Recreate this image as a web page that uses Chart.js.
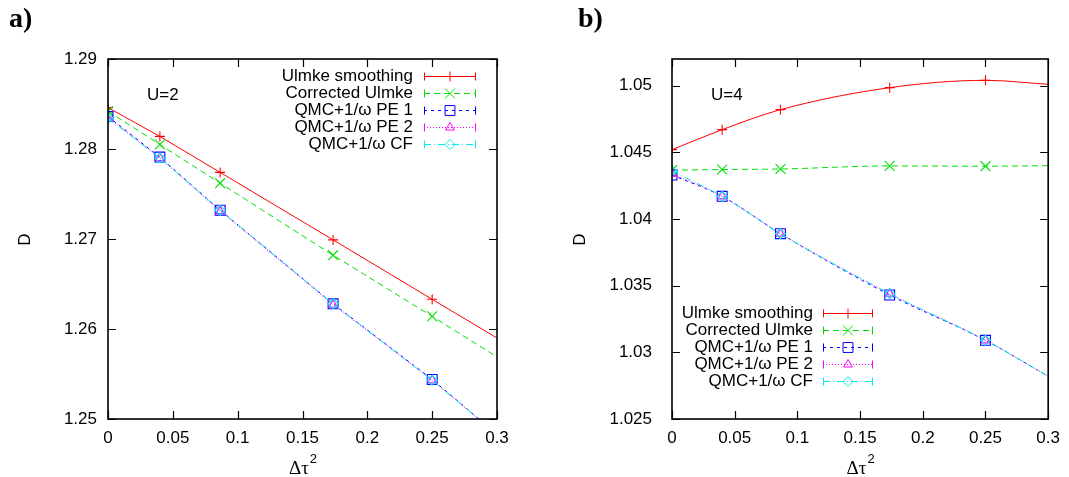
<!DOCTYPE html>
<html>
<head>
<meta charset="utf-8">
<title>D vs Δτ²</title>
<script src="https://cdn.jsdelivr.net/npm/chart.js@4.4.1/dist/chart.umd.min.js"></script>
<style>
  body { margin: 0; background: #fff; }
  .panel { position: absolute; top: 0; height: 477px; }
  #panelA { left: 0; width: 534px; }
  #panelB { left: 534px; width: 535px; }
</style>
</head>
<body>
<div class="panel" id="panelA"><canvas id="chartA"></canvas></div>
<div class="panel" id="panelB"><canvas id="chartB"></canvas></div>
<script>
// Δτ² of the QMC runs, plus the right end of the fitted curves
const tauSq = [0, 0.04, 0.0865, 0.1736, 0.25];
const tauSqEnd = 0.3;

const xTicks = [0, 0.05, 0.1, 0.15, 0.2, 0.25, 0.3];
const yTicksA = [1.25, 1.26, 1.27, 1.28, 1.29];
const yTicksB = [1.025, 1.03, 1.035, 1.04, 1.045, 1.05];

const seriesNames = ['Ulmke smoothing', 'Corrected Ulmke', 'QMC+1/ω PE 1', 'QMC+1/ω PE 2', 'QMC+1/ω CF'];

// U=2
const ulmkeA     = [1.2846, 1.2814, 1.2774, 1.2699, 1.2633];
const correctedA = [1.2842, 1.2805, 1.2762, 1.2682, 1.2614];
const pe1A       = [1.2836, 1.2791, 1.2732, 1.2628, 1.2544];
const pe2A       = [1.2835, 1.2790, 1.2731, 1.2627, 1.2543];
const cfA        = [1.2834, 1.2790, 1.2732, 1.2628, 1.2543];
const curveEndA  = [1.2590, 1.2569, 1.2483, 1.2483, 1.2483]; // curves at Δτ²=0.3

// U=4
const ulmkeB     = [1.0452, 1.0467, 1.0482, 1.04985, 1.0504];
const correctedB = [1.04366, 1.04371, 1.04375, 1.04398, 1.04396];
const pe1B       = [1.0433, 1.0417, 1.0389, 1.0343, 1.0309];
const pe2B       = [1.0434, 1.0417, 1.0389, 1.0344, 1.0309];
const cfB        = [1.0436, 1.0417, 1.0389, 1.0344, 1.0309];
const curveEndB  = [1.0501, 1.0440, 1.0282, 1.0282, 1.0282];

// gnuplot-like line types
const styles = [
  { color: '#ff0000', dash: [],           point: 'cross',    radius: 5 },
  { color: '#00e000', dash: [6, 4],       point: 'crossRot', radius: 7 },
  { color: '#0000ff', dash: [3, 4],       point: 'rect',     radius: 7 },
  { color: '#ff00ff', dash: [1, 2],       point: 'triangle', radius: 5 },
  { color: '#00eeee', dash: [7, 3, 1, 3], point: 'rectRot',  radius: 5 },
];

const SANS = '"Liberation Sans", Arial, sans-serif';
const SERIF = '"Liberation Serif", "Times New Roman", serif';

function buildDatasets(seriesValues, curveEnd, curveMode) {
  const sets = [];
  seriesValues.forEach((vals, i) => {
    const s = styles[i];
    const pts = tauSq.map((x, j) => ({ x: x, y: vals[j] }));
    // fitted curve, drawn under its markers
    sets.push({
      label: seriesNames[i],
      data: pts.concat([{ x: tauSqEnd, y: curveEnd[i] }]),
      showLine: true,
      borderColor: s.color,
      borderWidth: 1,
      borderDash: s.dash,
      pointRadius: 0,
      cubicInterpolationMode: curveMode,
      order: 10 - 2 * i
    });
    sets.push({
      label: seriesNames[i],
      data: pts,
      showLine: false,
      pointStyle: s.point,
      pointRadius: s.radius,
      pointBorderColor: s.color,
      pointBackgroundColor: 'transparent',
      pointBorderWidth: 1.1,
      order: 9 - 2 * i
    });
  });
  return sets;
}

// border box with inward ticks on all four sides
const frame = {
  id: 'frame',
  afterDatasetsDraw(chart) {
    const { ctx, chartArea: a, scales: { x, y } } = chart;
    ctx.save();
    ctx.strokeStyle = '#000';
    ctx.lineWidth = 1.2;
    ctx.beginPath();
    x.ticks.forEach(t => {
      const px = Math.round(x.getPixelForValue(t.value)) + 0.5;
      ctx.moveTo(px, a.bottom); ctx.lineTo(px, a.bottom - 8);
      ctx.moveTo(px, a.top); ctx.lineTo(px, a.top + 8);
    });
    y.ticks.forEach(t => {
      const py = Math.round(y.getPixelForValue(t.value)) + 0.5;
      ctx.moveTo(a.left, py); ctx.lineTo(a.left + 8, py);
      ctx.moveTo(a.right, py); ctx.lineTo(a.right - 8, py);
    });
    ctx.stroke();
    ctx.lineWidth = 1.6;
    ctx.strokeRect(a.left, a.top, a.right - a.left, a.bottom - a.top);
    ctx.restore();
  }
};

// key: right-aligned text, sample line with end caps and marker
const keyBox = {
  id: 'keyBox',
  afterDraw(chart, args, o) {
    const ctx = chart.ctx;
    ctx.save();
    ctx.font = '17px ' + SANS;
    ctx.textAlign = 'right';
    ctx.textBaseline = 'middle';
    seriesNames.forEach((name, i) => {
      const s = styles[i];
      const yy = Math.round(o.top + i * o.step) + 0.5;
      ctx.fillStyle = '#000';
      ctx.fillText(name, o.textRight, yy);
      ctx.strokeStyle = s.color;
      ctx.lineWidth = 1;
      ctx.setLineDash(s.dash);
      ctx.beginPath();
      ctx.moveTo(o.x1, yy); ctx.lineTo(o.x2, yy);
      ctx.stroke();
      ctx.setLineDash([]);
      ctx.beginPath();
      ctx.moveTo(o.x1 + 0.5, yy - 4); ctx.lineTo(o.x1 + 0.5, yy + 4);
      ctx.moveTo(o.x2 - 0.5, yy - 4); ctx.lineTo(o.x2 - 0.5, yy + 4);
      ctx.stroke();
      ctx.fillStyle = 'rgba(0,0,0,0)';
      Chart.helpers.drawPoint(ctx, { pointStyle: s.point, radius: s.radius, rotation: 0, borderWidth: 1.1 },
        (o.x1 + o.x2) / 2, yy);
    });
    ctx.restore();
  }
};

// panel letter, U value, axis titles
const annotate = {
  id: 'annotate',
  afterDraw(chart, args, o) {
    const { ctx, chartArea: a } = chart;
    ctx.save();
    ctx.fillStyle = '#000';
    ctx.textAlign = 'left';
    ctx.textBaseline = 'alphabetic';
    ctx.font = 'bold 28px ' + SERIF;
    ctx.fillText(o.panel, o.panelX, 27);

    ctx.font = '17px ' + SANS;
    ctx.textBaseline = 'middle';
    ctx.fillText(o.uText, a.left + 39, 95);

    ctx.save();
    ctx.translate(o.yTitleX, 239.5);
    ctx.rotate(-Math.PI / 2);
    ctx.textAlign = 'center';
    ctx.fillText('D', 0, 0);
    ctx.restore();

    ctx.textBaseline = 'alphabetic';
    ctx.font = '19px ' + SERIF;
    const w1 = ctx.measureText('Δτ').width;
    ctx.font = '13px ' + SANS;
    const w2 = ctx.measureText('2').width;
    const x0 = (a.left + a.right) / 2 - (w1 + w2) / 2;
    ctx.font = '19px ' + SERIF;
    ctx.fillText('Δτ', x0, 474);
    ctx.font = '13px ' + SANS;
    ctx.fillText('2', x0 + w1 + 1, 463);
    ctx.restore();
  }
};

function makeChart(id, datasets, yMin, yMax, yTicks, yAxisWidth, yPad, rightPad, key, labels) {
  return new Chart(document.getElementById(id), {
    type: 'scatter',
    data: { datasets: datasets },
    options: {
      responsive: true,
      maintainAspectRatio: false,
      animation: false,
      events: [],
      layout: { padding: { top: 59, right: rightPad, left: 0, bottom: 0 } },
      plugins: {
        legend: { display: false },
        tooltip: { enabled: false },
        keyBox: key,
        annotate: labels
      },
      scales: {
        x: {
          type: 'linear', min: 0, max: 0.3,
          grid: { display: false, drawTicks: false },
          border: { display: false },
          afterBuildTicks: s => { s.ticks = xTicks.map(v => ({ value: v })); },
          afterFit: s => { s.height = 58; },
          ticks: { padding: 9, color: '#000', maxRotation: 0, autoSkip: false,
                   font: { family: SANS, size: 17 }, callback: v => String(v) }
        },
        y: {
          type: 'linear', min: yMin, max: yMax,
          grid: { display: false, drawTicks: false },
          border: { display: false },
          afterBuildTicks: s => { s.ticks = yTicks.map(v => ({ value: v })); },
          afterFit: s => { s.width = yAxisWidth; },
          ticks: { padding: yPad, color: '#000', autoSkip: false,
                   font: { family: SANS, size: 17 }, callback: v => String(v) }
        }
      }
    },
    plugins: [frame, keyBox, annotate]
  });
}

makeChart('chartA',
  buildDatasets([ulmkeA, correctedA, pe1A, pe2A, cfA], curveEndA, 'default'),
  1.25, 1.29, yTicksA, 108, 11, 37,
  { textRight: 413, x1: 424, x2: 476, top: 75.7, step: 17 },
  { panel: 'a)', panelX: 9, uText: 'U=2', yTitleX: 25 });

makeChart('chartB',
  buildDatasets([ulmkeB, correctedB, pe1B, pe2B, cfB], curveEndB, 'monotone'),
  1.025, 1.052, yTicksB, 138, 20, 16,
  { textRight: 279, x1: 289, x2: 339, top: 312.7, step: 17 },
  { panel: 'b)', panelX: 44, uText: 'U=4', yTitleX: 46 });
</script>
</body>
</html>
